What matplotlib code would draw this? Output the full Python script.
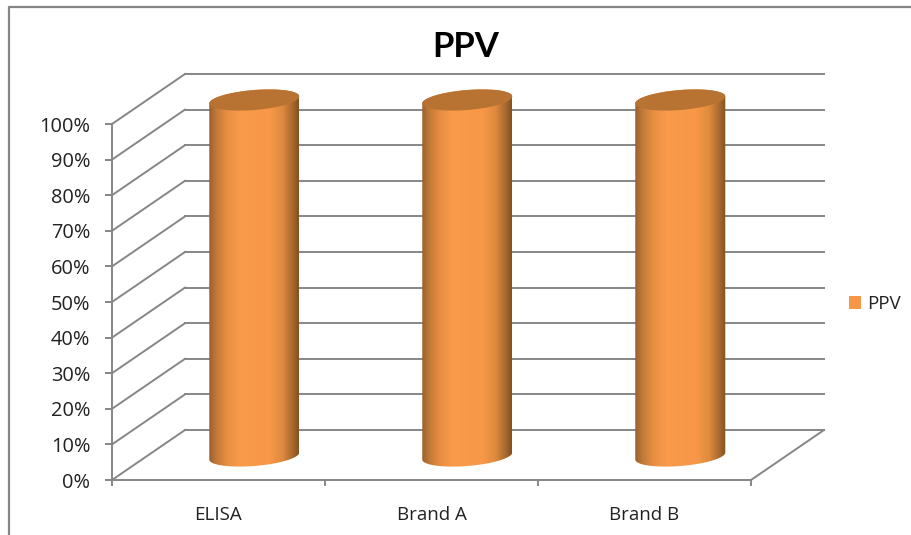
import numpy as np
import matplotlib
matplotlib.use('Agg')
import matplotlib.pyplot as plt
from matplotlib.colors import LinearSegmentedColormap
from matplotlib.lines import Line2D
from matplotlib.patches import Patch, Polygon

categories = ['ELISA', 'Brand A', 'Brand B']
ppv_values = [100, 100, 100]
y_ticks = [0, 10, 20, 30, 40, 50, 60, 70, 80, 90, 100]
series_name = 'PPV'

GRID = '#868686'
ORANGE = '#F79646'

plt.rcParams['font.family'] = ['Open Sans', 'DejaVu Sans']

W, H = 912, 535
fig = plt.figure(figsize=(W / 100, H / 100), dpi=100, facecolor='white')

# Front plane of the 3D box, in figure fractions
ax = fig.add_axes([112 / W, (H - 480) / H, 639 / W, 356 / H])
ax.set_facecolor('none')

px_x = 3 / 639    # category units per pixel
px_y = 100 / 356  # percent per pixel
depth_x = 73 * px_x
depth_y = 50 * px_y

# Walls and floor
for v in y_ticks:
    ax.plot([0, depth_x], [v, v + depth_y], color=GRID, lw=1.4, clip_on=False, zorder=1)
    ax.plot([depth_x, len(categories) + depth_x], [v + depth_y, v + depth_y],
            color=GRID, lw=1.4, clip_on=False, zorder=1)
ax.plot([len(categories), len(categories) + depth_x], [0, depth_y],
        color=GRID, lw=1.4, clip_on=False, zorder=1)

# Horizontal shading across a cylinder
shade = LinearSegmentedColormap.from_list('shade', [
    (0.0, '#9A5F2E'), (0.08, '#C07A38'), (0.2, '#E88E42'), (0.35, '#F99B4A'),
    (0.68, '#F79747'), (0.82, '#DE8A3E'), (0.93, '#A8692F'), (1.0, '#82501F')])
gradient = np.linspace(0, 1, 256).reshape(1, -1)


def ring(cx, cy, t):
    # tilted ellipse used for the cylinder ends
    x = cx + 45 * px_x * np.cos(t)
    y = cy + 3.5 * px_y * np.cos(t) + 10 * px_y * np.sin(t)
    return np.column_stack([x, y])


for i, value in enumerate(ppv_values):
    cx = i + 0.5 + depth_x * 0.49
    base = depth_y * 0.48
    body = np.vstack([ring(cx, base, np.linspace(np.pi, 2 * np.pi, 60)),
                      ring(cx, base + value, np.linspace(0, np.pi, 60))])
    clip = Polygon(body, closed=True, transform=ax.transData, facecolor='none', edgecolor='none')
    ax.add_patch(clip)
    im = ax.imshow(gradient, cmap=shade, aspect='auto', interpolation='bilinear', zorder=3,
                   extent=[cx - 45 * px_x, cx + 45 * px_x, 0, value + depth_y])
    # the cylinders stand past the front plane, so the axes box must not cut them
    im.set_clip_box(fig.bbox)
    im.set_clip_path(clip)
    top = ring(cx, base + value, np.linspace(0, 2 * np.pi, 120))
    ax.add_patch(Polygon(top, closed=True, facecolor='#B87333', edgecolor='none',
                         clip_on=False, zorder=4))

ax.set_xlim(0, len(categories))
ax.set_ylim(0, 100)

# Axes
for side in ['top', 'right']:
    ax.spines[side].set_visible(False)
for side in ['left', 'bottom']:
    ax.spines[side].set_color(GRID)
    ax.spines[side].set_linewidth(1.4)
    ax.spines[side].set_zorder(2)

ax.set_yticks(y_ticks)
ax.set_yticklabels([f'{v}%' for v in y_ticks])
ax.set_xticks(range(len(categories) + 1))
ax.set_xticklabels([])
ax.set_xticks([i + 0.5 for i in range(len(categories))], minor=True)
ax.set_xticklabels(categories, minor=True)
ax.tick_params(axis='y', direction='out', length=5, width=1.4, color=GRID,
               labelsize=14.4, labelcolor='#222222', pad=10.5)
ax.tick_params(axis='x', which='major', direction='out', length=4.5, width=1.4, color=GRID)
ax.tick_params(axis='x', which='minor', length=0, labelsize=13.5, labelcolor='#222222', pad=19)

fig.text(466 / W, 1 - 47 / H, series_name, fontfamily='Lato', fontsize=25, fontweight='bold',
         color='black', ha='center', va='center')

ax.legend(handles=[Patch(facecolor=ORANGE, edgecolor='none', label=series_name)],
          loc='center left', bbox_to_anchor=(832 / W, 1 - 304 / H),
          bbox_transform=fig.transFigure, frameon=False, fontsize=13.5,
          handlelength=0.66, handleheight=0.66, handletextpad=0.3,
          labelcolor='#222222')

# Chart area outline, only top and left are on the canvas
fig.add_artist(Line2D([9.5 / W, 9.5 / W, 1], [0, 1 - 6.5 / H, 1 - 6.5 / H], color=GRID, lw=1.6))

fig.savefig('out.png', dpi=100)
